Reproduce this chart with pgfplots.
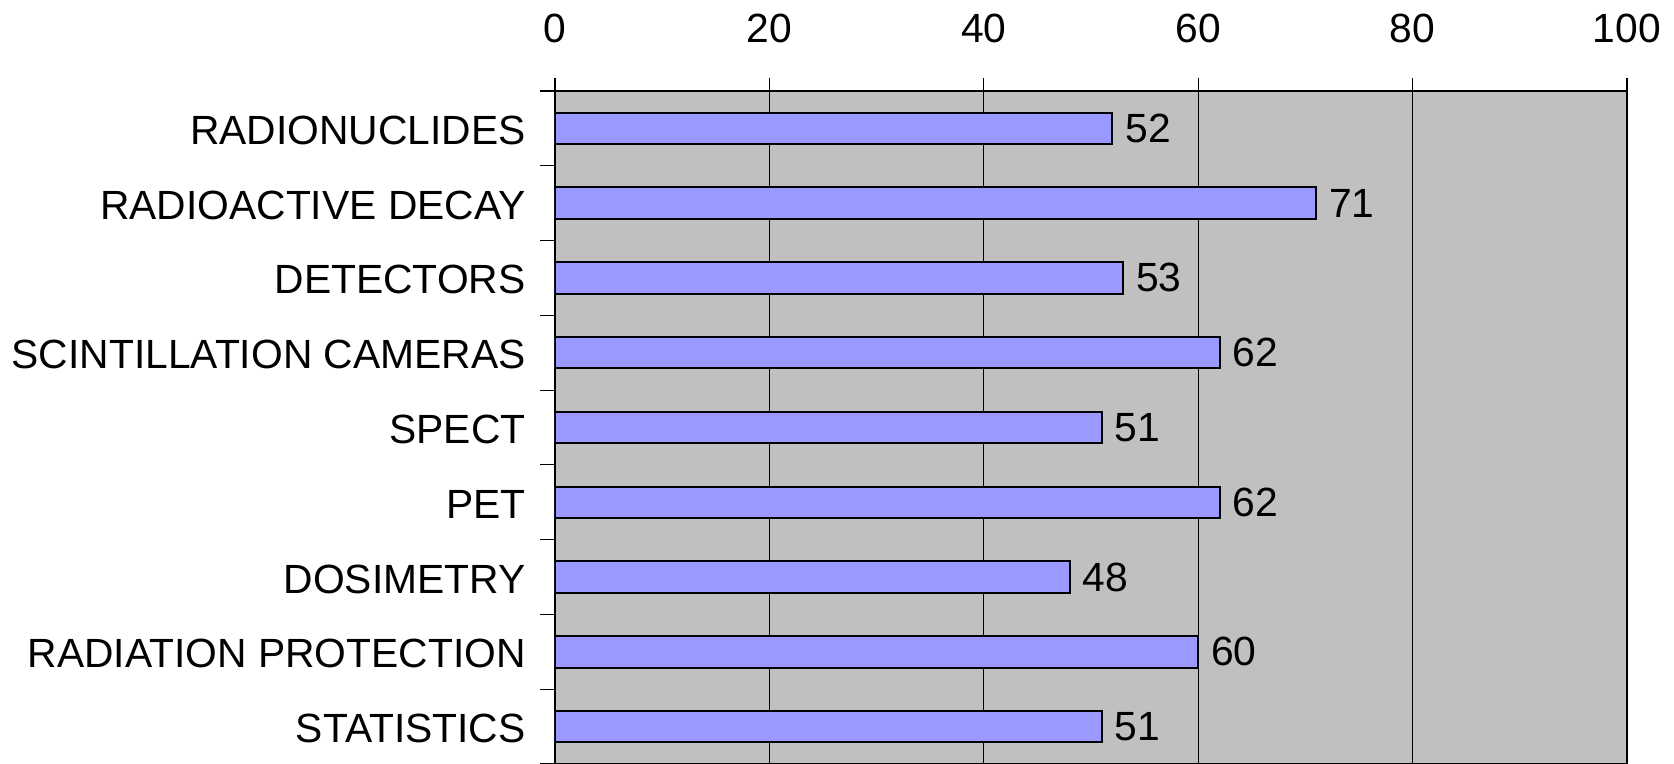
\documentclass[border=0pt]{standalone}
\usepackage{pgfplots}
\pgfplotsset{compat=1.18}
\usepackage{fontspec}
\setmainfont{Liberation Sans}

\definecolor{plotgrey}{HTML}{C0C0C0}
\definecolor{barblue}{HTML}{9999FF}

\begin{document}
\fontsize{20.4}{24}\selectfont
\begin{tikzpicture}
\begin{axis}[
    xbar,
    scale only axis,
    width=536pt,
    height=336.5pt,
    xmin=0, xmax=100,
    ymin=-0.5, ymax=8.5,
    y dir=reverse,
    axis background/.style={fill=plotgrey},
    axis line style={black, line width=0.6pt},
    bar width=0.42,
    xtick={0,20,40,60,80,100},
    xtick pos=upper,
    xticklabel pos=upper,
    xmajorgrids,
    major grid style={black, line width=0.5pt},
    tick align=outside,
    major tick length=6.5pt,
    minor tick length=7.5pt,
    xtick style={black, line width=0.6pt},
    ytick={0,1,2,3,4,5,6,7,8},
    yticklabels={RADIONUCLIDES,RADIOACTIVE DECAY,DETECTORS,SCINTILLATION CAMERAS,SPECT,PET,DOSIMETRY,RADIATION PROTECTION,STATISTICS},
    major y tick style={draw=none},
    ytick pos=left,
    minor ytick={-0.5,0.5,...,8.5},
    minor y tick style={draw=black, line width=0.6pt},
    yticklabel style={anchor=east, inner sep=0pt, xshift=-8pt, yshift=-1pt},
    xticklabel style={anchor=south, inner sep=0pt, yshift=17.5pt},
    /pgf/number format/assume math mode=true,
    nodes near coords,
    every node near coord/.append style={anchor=west, inner sep=0pt, xshift=6pt, black},
    font=\fontsize{20.4}{24}\selectfont,
]
\addplot[fill=barblue, draw=black, line width=1pt] coordinates {
    (52,0) (71,1) (53,2) (62,3) (51,4) (62,5) (48,6) (60,7) (51,8)
};
\end{axis}
\pgfresetboundingbox
\path ([xshift=-277.5pt]current axis.south west) rectangle ([xshift=23.5pt,yshift=45.5pt]current axis.north east);
\end{tikzpicture}
\end{document}
